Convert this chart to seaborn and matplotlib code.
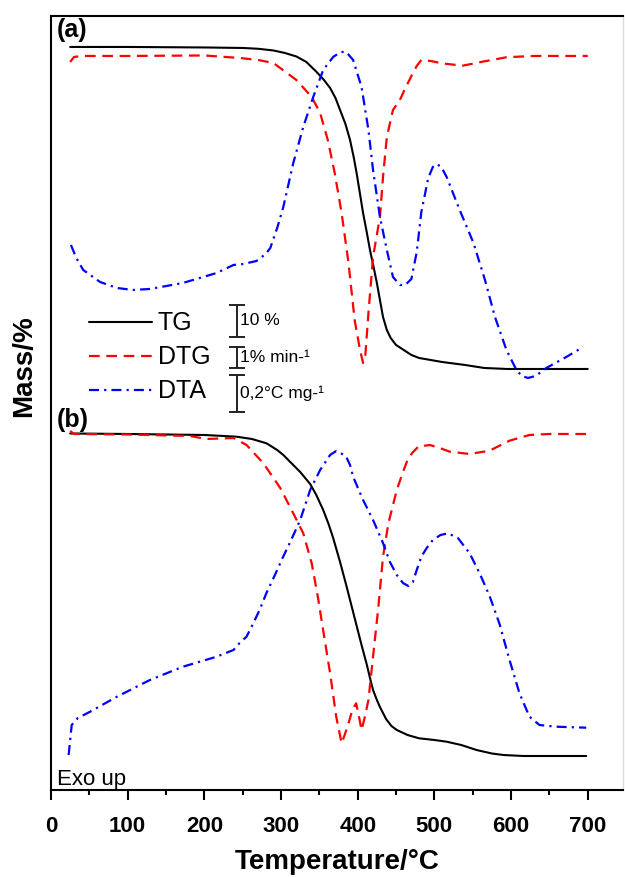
import numpy as np
import pandas as pd
import matplotlib
matplotlib.use("Agg")
import matplotlib.pyplot as plt
import seaborn as sns
from matplotlib.ticker import MultipleLocator

# signals in arbitrary offset units (curves are stacked, no y scale on the chart)
# ---- panel (a)
tg_a_t = [25, 100, 200, 250, 270, 290, 305, 320, 333, 346, 356, 364, 371, 377, 384, 390, 395, 399,
          403, 407, 412, 416, 421, 425, 429, 433, 438, 443, 450, 460, 470, 480, 510, 540, 565, 595, 700]
tg_a = [743, 743, 742.5, 742, 741.2, 739.5, 737, 733.5, 728, 718.3, 710, 702, 692, 680, 666, 650, 632,
        615, 596, 577, 557, 540, 522, 507, 490, 473, 460, 452, 445, 440, 435, 432, 428, 425, 422, 421, 421]

dtg_a_t = [25, 30, 40, 100, 200, 246, 270, 290, 320, 340, 351, 361, 370, 379, 388, 396, 403, 407,
           410, 414, 420, 429, 433, 438, 446, 455, 461, 472, 477, 483, 495, 511, 537, 563, 594, 629, 700]
dtg_a = [728, 733, 734, 734, 734.5, 732, 730, 727, 710, 693, 677, 650, 617, 577, 527, 470, 440, 427,
         435, 477, 533, 573, 613, 653, 680, 690, 700, 717, 724, 730, 729, 726.5, 724.3, 728.3, 732.7, 734, 734]

dta_a_t = [26, 33, 42, 64, 86, 107, 129, 172, 216, 238, 251, 268, 280, 286, 295, 303, 316, 329, 342,
           355, 368, 378, 385, 394, 405, 414, 420, 429, 438, 446, 455, 462, 470, 477, 483, 492, 498,
           503, 509, 516, 533, 551, 566, 579, 594, 607, 614, 622, 632, 646, 672, 694]
dta_a = [545, 532, 520, 508, 502, 500, 501, 507, 517, 525, 526, 529, 536, 542, 562, 583, 627, 663, 693,
         720, 733, 738, 738, 730, 703, 660, 620, 573, 540, 513, 505, 505, 511, 538, 578, 612, 623,
         626, 623, 613, 580, 547, 510, 473, 440, 420, 414, 412, 414, 422, 433, 443]

# ---- panel (b)
tg_b_t = [25, 100, 200, 242, 262, 281, 295, 303, 312, 325, 338, 346, 355, 362, 368, 377, 385, 392,
          399, 405, 412, 416, 420, 425, 429, 437, 444, 451, 465, 480, 500, 516, 535, 555, 575, 590, 616, 698]
tg_b = [356.5, 356, 355, 353.3, 351, 346.7, 340, 335, 328, 318, 306, 295, 280, 266, 252, 228, 205, 184,
        163, 145, 125, 112, 100, 90, 83, 71, 64, 60, 55, 51.7, 50, 48.3, 45, 40, 36.5, 35, 34, 34]

dtg_b_t = [25, 30, 100, 181, 203, 238, 255, 277, 299, 316, 329, 340, 348, 357, 364, 372, 379, 383,
           388, 393, 398, 402, 405, 409, 414, 420, 427, 433, 440, 451, 459, 464, 471, 479, 494, 507,
           520, 546, 572, 598, 624, 650, 698]
dtg_b = [359, 356, 355.5, 354, 351, 352, 345, 326.7, 302, 276.7, 256.7, 226.7, 193.3, 150, 116.7,
         73.3, 46.7, 55, 66.7, 80, 86.7, 72, 60, 72, 90, 133.3, 183.3, 233.3, 266.7, 300, 318, 328,
         337, 343.3, 345, 342, 338.3, 336, 339.3, 349.3, 355, 356, 356]

dta_b_t = [23, 25, 27, 35, 51, 86, 129, 172, 216, 238, 246, 255, 264, 272, 281, 292, 302, 312, 325,
           338, 351, 364, 372, 377, 385, 390, 394, 407, 420, 433, 442, 451, 459, 466, 472, 477, 483,
           490, 498, 508, 518, 531, 546, 559, 572, 585, 598, 611, 624, 637, 659, 698]
dta_b = [35, 50, 65, 72, 78.3, 93.3, 110, 123.3, 133.3, 140, 147, 153.3, 167, 180, 197, 215, 232, 248,
         270, 300, 320, 335, 339, 337.3, 333.3, 325, 313.3, 290, 270, 247, 228, 215, 207, 204, 208,
         220, 233.3, 242, 250, 255, 256.7, 251.7, 236.7, 216.7, 194, 166, 130, 96.7, 73.3, 65, 63.3, 62.3]

# scale bars: position, centre and half length in signal units
bar_t = 242
bar_centres = [469, 432, 396.7]
bar_halves = [16, 10.5, 18.3]
bar_labels = ["10 %", "1% min-\u00b9", "0,2\u00b0C mg-\u00b9"]

sns.set_style("ticks")
plt.rcParams["font.family"] = ["Liberation Sans", "DejaVu Sans"]
plt.rcParams["text.color"] = "black"
plt.rcParams["axes.labelcolor"] = "black"
plt.rcParams["xtick.color"] = "black"

fig = plt.figure(figsize=(6.25, 8.77), dpi=100)
ax = fig.add_axes([0.0816, 0.0992, 0.9152, 0.8826])

TG_STYLE = dict(color="black", linewidth=1.5, linestyle="-")
DTG_STYLE = dict(color="#ff0000", linewidth=1.6, linestyle=(0, (4.8, 3)))
DTA_STYLE = dict(color="#0000ff", linewidth=1.6, linestyle=(0, (4.5, 2.3, 1, 2.3)))

series = [
    (tg_a_t, tg_a, TG_STYLE, "TG"),
    (dtg_a_t, dtg_a, DTG_STYLE, "DTG"),
    (dta_a_t, dta_a, DTA_STYLE, "DTA"),
    (tg_b_t, tg_b, TG_STYLE, None),
    (dtg_b_t, dtg_b, DTG_STYLE, None),
    (dta_b_t, dta_b, DTA_STYLE, None),
]
handles = []
for t, y, style, name in series:
    df = pd.DataFrame({"T": t, "y": y})
    sns.lineplot(data=df, x="T", y="y", ax=ax, estimator=None, sort=False, **style)
    if name:
        handles.append((ax.lines[-1], name))

ax.errorbar([bar_t] * 3, bar_centres, yerr=bar_halves, fmt="none", ecolor="#222222",
            elinewidth=1.4, capsize=5.5, capthick=1.4)
for c, lab in zip(bar_centres, bar_labels):
    ax.text(bar_t + 4, c, lab, fontsize=12.5, va="center", ha="left")

leg = ax.legend([h for h, _ in handles], [n for _, n in handles], loc="upper left",
                bbox_to_anchor=(0.1424, 0.645), bbox_transform=fig.transFigure,
                frameon=False, fontsize=18, handlelength=2.5, handletextpad=0.25,
                labelspacing=0.4, borderpad=0, borderaxespad=0)

ax.text(8, 760, "(a)", fontsize=18, fontweight="bold", va="center", ha="left")
ax.text(8, 370, "(b)", fontsize=18, fontweight="bold", va="center", ha="left")
ax.text(8, 11, "Exo up", fontsize=16, va="center", ha="left")

ax.set_xlim(0, 746)
ax.set_ylim(0, 774)
ax.set_yticks([])
ax.xaxis.set_major_locator(MultipleLocator(100))
ax.xaxis.set_minor_locator(MultipleLocator(50))
ax.tick_params(axis="x", which="major", length=7, width=1.5, direction="out", labelsize=16, pad=12,
               colors="black")
ax.tick_params(axis="x", which="minor", length=3.5, width=1.5, direction="out", colors="black")
for lab in ax.get_xticklabels():
    lab.set_fontweight("bold")

for side in ["left", "bottom", "top"]:
    ax.spines[side].set_visible(True)
    ax.spines[side].set_linewidth(1.5)
    ax.spines[side].set_color("black")
ax.spines["right"].set_color("#dddddd")
ax.spines["right"].set_linewidth(1.0)

ax.set_xlabel("Temperature/\u00b0C", fontsize=20, fontweight="bold", labelpad=8)
ax.set_ylabel("Mass/%", fontsize=20, fontweight="bold")
ax.yaxis.set_label_coords(-0.025, 0.548)

fig.savefig("out.png", dpi=100)
